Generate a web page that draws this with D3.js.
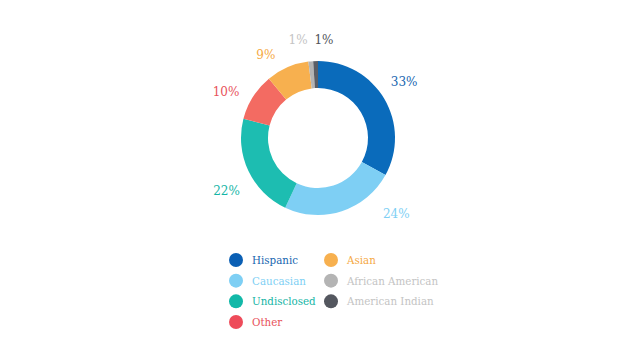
<!DOCTYPE html>
<html><head><meta charset="utf-8">
<script src="https://cdn.jsdelivr.net/npm/d3@7"></script>
<style>body{margin:0;background:#fff}svg{display:block}</style>
</head><body>
<svg id="c" width="640" height="360"></svg>
<script>
const categories = ["Hispanic","Caucasian","Undisclosed","Other","Asian","African American","American Indian"];
const values = [33,24,22,10,9,1,1];
const sliceColors = ["#0a6bbb","#7ecff4","#1dbdb1","#f36b62","#f7b04f","#b4b4b4","#5b5e66"];
const legendDotColors = ["#0a5fb4","#7ecff4","#12b8a8","#ee4b5a","#f7b04f","#b4b4b4","#54575f"];
const textColors = ["#1766b0","#7ecff4","#14b5a6","#e8525b","#f5a944","#c4c4c4","#505359"];
const legendTextColors = ["#1766b0","#7ecff4","#14b5a6","#e8525b","#f5a944","#c4c4c4","#c4c4c4"];
// label angle nudges (degrees) and radial distances to avoid overlap
const labelAngleNudge = [-2.6,-27.9,-5.1,-5.6,-8.8,-6.1,5.3];
const labelRadius = [103,109,106,103,98,100,98];

const svg = d3.select("#c");
const cx = 318, cy = 138, rOuter = 77, rInner = 50;
const g = svg.append("g").attr("transform",`translate(${cx},${cy})`);
const data = categories.map((c,i)=>({cat:c,val:values[i],i}));
const pie = d3.pie().value(d=>d.val).sort(null);
const arcs = pie(data);
const arc = d3.arc().innerRadius(rInner).outerRadius(rOuter);
g.selectAll("path").data(arcs).join("path")
  .attr("d",arc).attr("fill",d=>sliceColors[d.data.i]);

const font = "'DejaVu Serif', serif";
const ang = d=>(d.startAngle+d.endAngle)/2+labelAngleNudge[d.data.i]*Math.PI/180;
g.selectAll("text.lbl").data(arcs).join("text").attr("class","lbl")
  .attr("x",d=>Math.sin(ang(d))*labelRadius[d.data.i])
  .attr("y",d=>-Math.cos(ang(d))*labelRadius[d.data.i])
  .attr("text-anchor","middle").attr("dominant-baseline","central")
  .attr("font-family",font).attr("font-size",12)
  .attr("fill",d=>textColors[d.data.i])
  .text(d=>d.data.val+"%");

// legend: two columns
const legendCols = [[0,1,2,3],[4,5,6]];
const colX = d3.scaleOrdinal().domain([0,1]).range([236,331]);
const rowY = d3.scaleLinear().domain([0,3]).range([260,322]);
legendCols.forEach((col,ci)=>{
  col.forEach((idx,ri)=>{
    const lg = svg.append("g").attr("transform",`translate(${colX(ci)},${rowY(ri)})`);
    lg.append("circle").attr("r",7).attr("fill",legendDotColors[idx]);
    lg.append("text").attr("x",16).attr("dominant-baseline","central")
      .attr("font-family",font).attr("font-size",10.3)
      .attr("fill",legendTextColors[idx]).text(categories[idx]);
  });
});
</script>
</body></html>
